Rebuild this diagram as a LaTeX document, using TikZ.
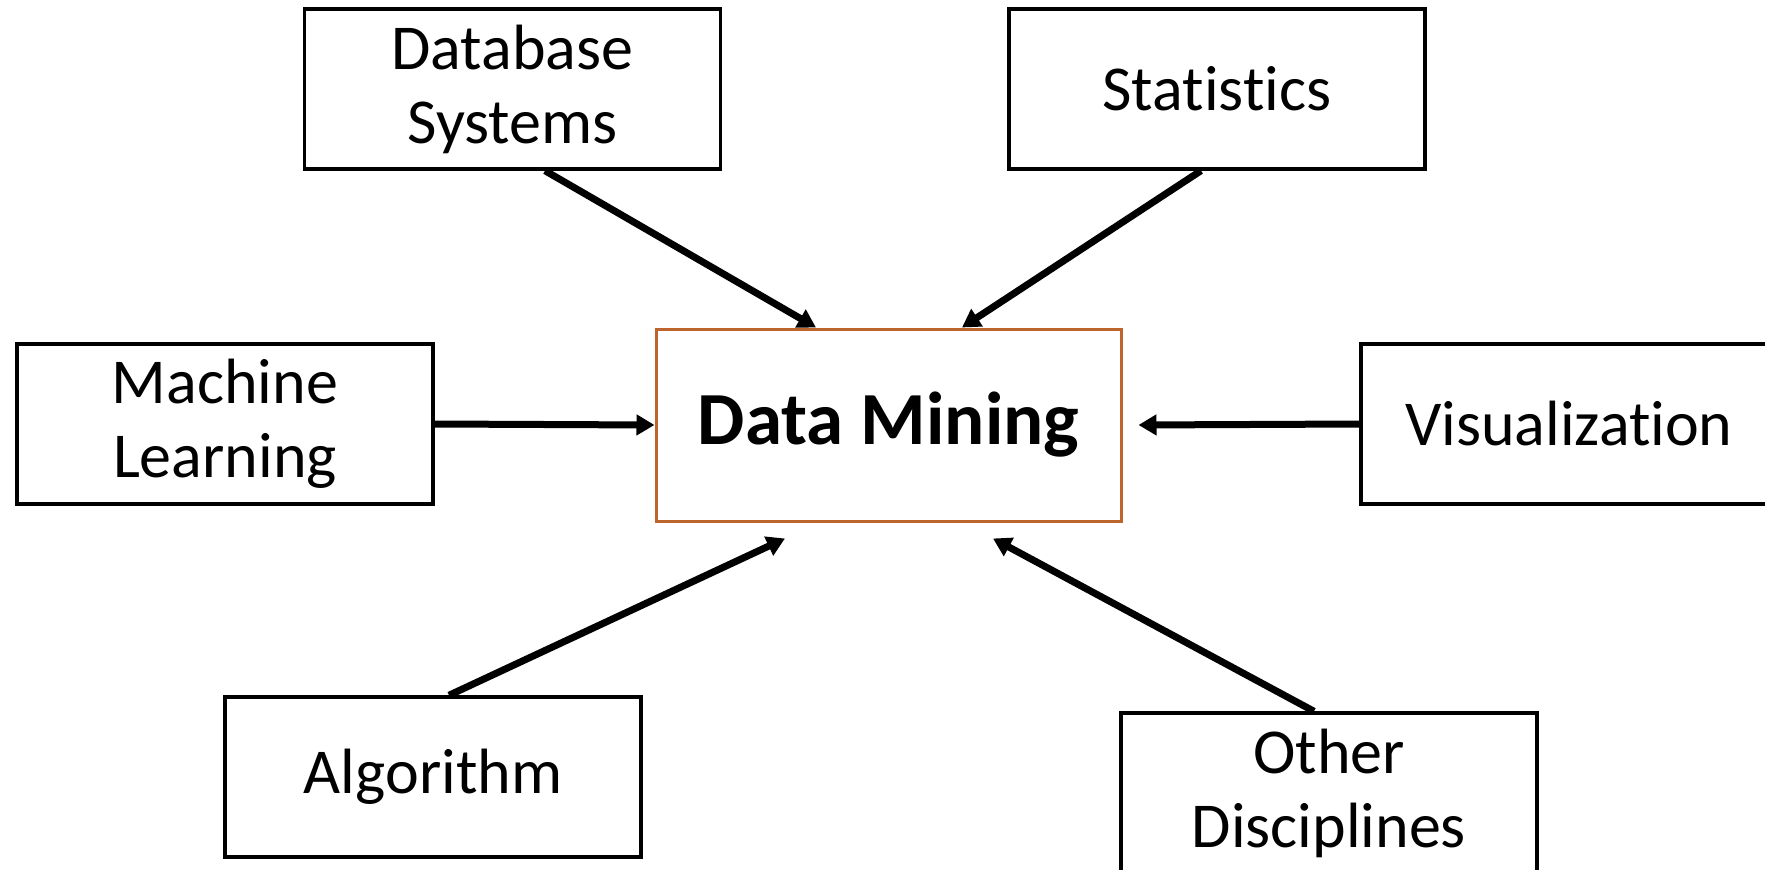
\documentclass[tikz,border=0pt]{standalone}
\usepackage{fontspec}
\setmainfont{Carlito}[RawFeature={-liga;-clig;-calt;-dlig}]
\usetikzlibrary{arrows.meta}
\definecolor{dmorange}{RGB}{190,100,45}
\begin{document}
\begin{tikzpicture}[x=1pt,y=-1pt,
  srcbox/.style={draw=black,line width=3.4pt,rectangle,minimum width=416pt,minimum height=160pt,inner sep=0pt,align=center,font=\fontsize{64}{74}\selectfont},
  dmbox/.style={draw=dmorange,line width=3pt,rectangle,minimum width=465pt,minimum height=192pt,inner sep=0pt,align=center,font=\fontsize{75}{88}\selectfont\bfseries},
  conn/.style={line width=7pt,-{Triangle[length=18pt,width=20pt]}}]
\useasboundingbox (0,0) rectangle (1765,870);
\fill[white] (0,0) rectangle (1765,870);
\clip (0,0) rectangle (1765,870);
\node[srcbox] (db) at (512.5,89) {Database\\Systems};
\node[srcbox] (stat) at (1217,89) {Statistics};
\node[srcbox] (ml) at (225,424) {Machine\\Learning};
\node[dmbox] (dm) at (888.5,425) {Data Mining};
\node[srcbox] (vis) at (1569,424) {Visualization};
\node[srcbox] (alg) at (433,777) {Algorithm};
\node[srcbox] (od) at (1329,793) {Other\\Disciplines};
\draw[conn] ([xshift=32.5pt]db.south) -- ([xshift=-72.5pt]dm.north);
\draw[conn] ([xshift=-16pt]stat.south) -- ([xshift=73.5pt]dm.north);
\draw[conn] (ml.east) -- (dm.west);
\draw[conn] (vis.west) -- ([xshift=16pt]dm.east);
\draw[conn] ([xshift=16pt]alg.north) -- ([xshift=-103.5pt,yshift=-16pt]dm.south);
\draw[conn] ([xshift=-15pt]od.north) -- ([xshift=104.5pt,yshift=-16pt]dm.south);
\end{tikzpicture}
\end{document}
